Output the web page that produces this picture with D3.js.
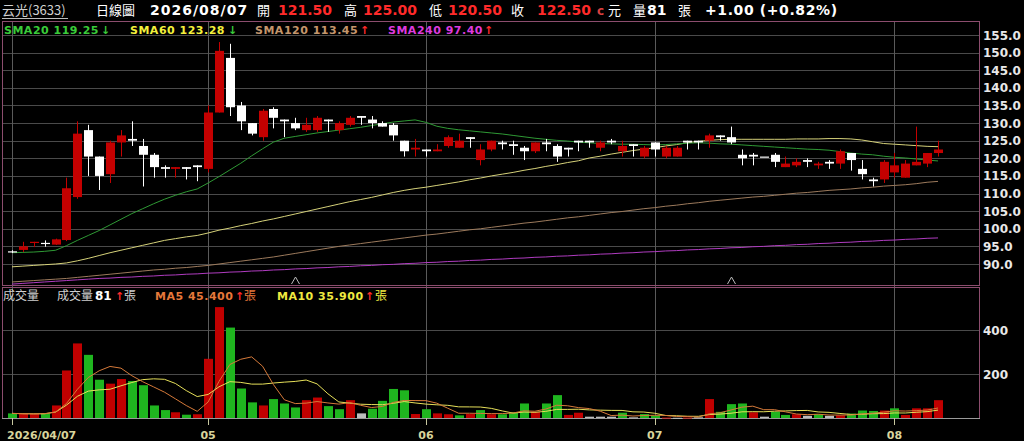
<!DOCTYPE html>
<html>
<head>
<meta charset="utf-8">
<script src="https://cdn.jsdelivr.net/npm/d3@7"></script>
<style>
  body { margin: 0; background: #000; overflow: hidden; }
</style>
</head>
<body>
<div id="chart"></div>
<script>
const width = 1024;
const height = 441;

// daily candles, 2026/04/07 .. 2026/08/07
const opens = [93.6, 94.0, 96.0, 96.0, 95.5, 96.8, 109, 128, 120.5, 115.5,
  124.5, 125.5, 123.5, 121, 117.5, 117, 117.5, 118, 117, 133,
  148.5, 135, 130, 126, 134, 131, 130, 128, 128, 131,
  128, 129.5, 132, 131, 130, 129.5, 125, 122.5, 122.5, 122,
  123.5, 123, 126, 119.5, 122.5, 124.5, 124, 123, 122, 124.5,
  123.5, 123, 125, 125, 123, 125, 122, 124, 120.5, 124.5,
  120.5, 120.5, 125, 125, 125, 126.5, 126, 121, 121, 120.5,
  121, 117.5, 118, 119.5, 118, 119, 118.5, 121.5, 117, 114,
  114, 116, 114.5, 118, 118.5, 121.5];
const highs = [93.9, 96.3, 96.3, 96.7, 97.2, 114.5, 130.5, 129.5, 120.5, 125,
  128, 130.5, 125.5, 121.5, 118, 117.5, 117.5, 118, 135, 153,
  152.5, 136, 130, 134, 134.5, 131, 131.5, 131.5, 132, 131,
  130.5, 132, 132, 132, 130.5, 130, 125, 125.5, 122.5, 124,
  126.5, 127, 126, 124, 125, 125, 125, 123.5, 124.5, 125.5,
  124, 123, 125, 125, 125, 125.5, 125, 124, 123.5, 124.5,
  123.5, 123.5, 125, 125, 127, 126.5, 129, 122.5, 121.5, 120.5,
  121.5, 120.5, 120, 120, 119, 119.5, 122.5, 121.5, 119.5, 114.5,
  119.5, 121.5, 119.5, 129, 121.5, 125];
const lows = [93.1, 93.4, 94.8, 94.9, 95.4, 96.5, 108.5, 115, 111, 113,
  120.5, 123.5, 112, 114.5, 114.5, 114.5, 114, 113.5, 116, 133,
  132, 128, 126.5, 125, 128.5, 126, 128, 127.5, 127.5, 127.5,
  127, 129, 129.5, 128.5, 129, 125, 120.5, 120.5, 120.5, 122,
  123, 123, 123, 118, 122, 122.5, 121, 119.5, 121.5, 122,
  119, 120.5, 122, 123, 122, 124, 120.5, 120.5, 120, 120.5,
  120, 120.5, 122.5, 122.5, 123, 125, 124, 118, 118, 120.5,
  117.5, 117.5, 117.5, 117.5, 117, 117, 117, 116.5, 114, 112,
  113, 114.5, 114.5, 118, 117.5, 120.5];
const closes = [93.5, 95.0, 96.3, 95.8, 97.0, 111.5, 127, 120.5, 115, 124.5,
  126.5, 125, 121, 117.5, 117, 117.5, 117, 117.5, 133, 150.5,
  134.5, 130.5, 127, 133.5, 131.5, 130.5, 128.5, 129.5, 131.5, 130.5,
  130, 131.5, 131.5, 130, 129, 126.5, 122, 123, 122, 122.5,
  126, 125, 125.5, 122.5, 125, 124, 123.5, 122, 124.5, 124,
  120.5, 122.5, 124.5, 124.5, 124.5, 124.5, 123.5, 123.5, 123, 122.5,
  123, 123, 124.5, 124.5, 126.5, 126, 124.5, 120, 120.5, 120.5,
  119, 118.5, 119, 119, 118.5, 118.5, 122, 119.5, 115.5, 113.5,
  119, 118, 118.5, 119, 121.5, 122.5];
const prevClose = 93.8; // close of the day before the first candle

// volume (張)
const volumes = [21, 18, 18, 21, 57, 216, 339, 287, 174, 156,
  177, 168, 149, 57, 36, 26, 15, 17, 269, 504,
  411, 134, 71, 57, 86, 66, 48, 81, 93, 54,
  40, 81, 21, 42, 78, 132, 126, 18, 40, 21,
  17, 12, 18, 36, 17, 17, 26, 66, 28, 66,
  104, 14, 24, 6, 6, 6, 24, 3, 18, 11,
  2, 1, 2, 3, 86, 28, 63, 66, 26, 6,
  28, 14, 17, 10, 17, 10, 12, 20, 34, 32,
  34, 44, 14, 44, 44, 81];

// moving averages
const sma20 = [93.2, 93.3, 93.4, 93.6, 93.9, 95.2, 96.7, 98.1, 99.5, 101.1,
  102.7, 104.3, 105.7, 107.1, 108.4, 109.5, 110.5, 111.3, 113, 114.8,
  116.7, 118.6, 120.7, 122.7, 124.6, 125.7, 126.2, 126.7, 127.2, 127.6,
  128, 128.4, 128.8, 129.3, 129.8, 130.3, 130.6, 130.9, 130.2, 129.1,
  128.5, 128.1, 127.8, 127.5, 127.2, 126.9, 126.5, 126.1, 125.7, 125.4,
  125.1, 124.9, 124.6, 124.4, 124.2, 124.1, 124, 124, 123.9, 123.8,
  123.9, 124.1, 124.3, 124.4, 124.3, 124.1, 124, 123.8, 123.6, 123.4,
  123.2, 123, 122.8, 122.6, 122.5, 122.3, 121.9, 121.5, 121.2, 121,
  120.6, 120.3, 120.1, 119.8, 119.5, 119.25];
const sma60 = [89.2, 89.4, 89.6, 89.8, 90.0, 90.3, 90.9, 91.6, 92.4, 93.2,
  93.9, 94.6, 95.3, 96, 96.7, 97.2, 97.7, 98.1, 98.8, 99.6,
  100.2, 100.9, 101.5, 102.2, 102.8, 103.5, 104.2, 104.9, 105.6, 106.3,
  107, 107.7, 108.3, 108.9, 109.6, 110.3, 110.9, 111.4, 111.8, 112.3,
  112.8, 113.3, 113.9, 114.4, 115, 115.5, 116, 116.6, 117.1, 117.7,
  118.2, 118.8, 119.3, 120.1, 120.6, 121.2, 121.7, 122.2, 122.6, 123,
  123.5, 123.9, 124.4, 124.8, 125.1, 125.3, 125.4, 125.4, 125.4, 125.4,
  125.4, 125.4, 125.5, 125.5, 125.5, 125.6, 125.6, 125.5, 125.2, 124.7,
  124.2, 124, 123.8, 123.6, 123.4, 123.3];
const sma120 = [84.9, 85.1, 85.3, 85.5, 85.7, 85.9, 86.2, 86.5, 86.8, 87.1,
  87.4, 87.7, 88.0, 88.3, 88.5, 88.8, 89.0, 89.3, 89.6, 90.0,
  90.4, 90.8, 91.2, 91.6, 92.0, 92.5, 93.0, 93.5, 94.0, 94.5,
  95.0, 95.4, 95.8, 96.2, 96.6, 97.0, 97.4, 97.8, 98.2, 98.5,
  98.9, 99.3, 99.7, 100.0, 100.4, 100.8, 101.2, 101.6, 101.9, 102.3,
  102.7, 103.1, 103.4, 103.8, 104.2, 104.6, 104.9, 105.3, 105.7, 106.0,
  106.4, 106.7, 107.1, 107.4, 107.8, 108.1, 108.4, 108.7, 109.0, 109.2,
  109.5, 109.8, 110.1, 110.3, 110.6, 110.9, 111.1, 111.3, 111.6, 111.8,
  112.1, 112.3, 112.5, 112.8, 113.2, 113.45];
const sma240 = [84.3, 84.5, 84.7, 84.9, 85.1, 85.3, 85.5, 85.7, 85.9, 86.0,
  86.2, 86.3, 86.5, 86.6, 86.8, 86.9, 87.1, 87.2, 87.4, 87.5,
  87.7, 87.8, 88.0, 88.1, 88.3, 88.4, 88.6, 88.7, 88.9, 89.0,
  89.2, 89.3, 89.5, 89.6, 89.8, 89.9, 90.1, 90.2, 90.4, 90.5,
  90.7, 90.8, 91.0, 91.1, 91.3, 91.4, 91.6, 91.7, 91.9, 92.0,
  92.2, 92.3, 92.5, 92.6, 92.8, 92.9, 93.1, 93.2, 93.4, 93.5,
  93.7, 93.8, 94.0, 94.1, 94.3, 94.4, 94.6, 94.7, 94.9, 95.0,
  95.2, 95.3, 95.5, 95.6, 95.8, 95.9, 96.1, 96.2, 96.4, 96.5,
  96.7, 96.8, 97.0, 97.1, 97.3, 97.4];

const priceTicks = [155, 150, 145, 140, 135, 130, 125, 120, 115, 110, 105, 100, 95, 90];
const volTicks = [200, 400];
const monthIdx = [0, 18, 38, 59, 81];
const monthLabels = ['2026/04/07', '05', '06', '07', '08'];
const markerIdx = [26, 66];

const RED = '#c40000';
const GREEN = '#1fb51f';
const FONT = "'DejaVu Sans', Verdana, sans-serif";
const CJK = "'Noto Sans CJK TC', 'Noto Sans CJK SC', sans-serif";

const svg = d3
  .select('#chart')
  .append('svg')
  .attr('width', width)
  .attr('height', height)
  .style('background', '#000');

const x = d3.scaleLinear().domain([0, 85]).range([12, 938]);
const y = d3.scaleLinear().domain([90, 155]).range([264, 35]);
const yv = d3.scaleLinear().domain([0, 400]).range([418, 330]);

const left = 2, right = 979;
const pTop = 21, pBottom = 285, vTop = 287, vBottom = 418;

svg.append('clipPath').attr('id', 'pclip')
  .append('rect').attr('x', left).attr('y', pTop)
  .attr('width', right - left).attr('height', pBottom - pTop);

// grid
const grid = svg.append('g').attr('stroke', '#4a4a4a').attr('stroke-width', 1);
grid.selectAll('line.h')
  .data(priceTicks)
  .join('line')
  .attr('class', 'h')
  .attr('x1', left).attr('x2', right)
  .attr('y1', (d) => Math.round(y(d)) + 0.5)
  .attr('y2', (d) => Math.round(y(d)) + 0.5);
grid.selectAll('line.vh')
  .data(volTicks)
  .join('line')
  .attr('class', 'vh')
  .attr('x1', left).attr('x2', right)
  .attr('y1', (d) => Math.round(yv(d)) + 0.5)
  .attr('y2', (d) => Math.round(yv(d)) + 0.5);
grid.selectAll('line.v')
  .data(monthIdx)
  .join('line')
  .attr('class', 'v')
  .attr('stroke', '#5a5a5a')
  .attr('x1', (d) => Math.round(x(d)) + 0.5)
  .attr('x2', (d) => Math.round(x(d)) + 0.5)
  .attr('y1', pTop).attr('y2', vBottom);

// frames
svg.append('rect')
  .attr('x', left + 0.5).attr('y', pTop + 0.5)
  .attr('width', right - left).attr('height', pBottom - pTop)
  .attr('fill', 'none').attr('stroke', '#8c4d6e');
svg.append('rect')
  .attr('x', left + 0.5).attr('y', vTop + 0.5)
  .attr('width', right - left).attr('height', vBottom - vTop)
  .attr('fill', 'none').attr('stroke', '#8c4d6e');
svg.append('line')
  .attr('x1', left).attr('x2', right + 1)
  .attr('y1', vBottom + 0.5).attr('y2', vBottom + 0.5)
  .attr('stroke', '#9a9a9a');

// price axis labels
svg.append('g')
  .selectAll('text')
  .data(priceTicks)
  .join('text')
  .attr('x', 983)
  .attr('y', (d) => y(d) + 4.5)
  .attr('fill', '#e8e8e8')
  .attr('font-family', FONT)
  .attr('font-weight', 'bold')
  .attr('font-size', 12)
  .text((d) => d.toFixed(1));

svg.append('g')
  .selectAll('text')
  .data(volTicks)
  .join('text')
  .attr('x', 983)
  .attr('y', (d) => yv(d) + 4.5)
  .attr('fill', '#e8e8e8')
  .attr('font-family', FONT)
  .attr('font-weight', 'bold')
  .attr('font-size', 12)
  .text((d) => d);

// moving average lines
const price = svg.append('g').attr('clip-path', 'url(#pclip)');
const maLine = d3.line().x((d, i) => x(i)).y((d) => y(d));
[
  [sma240, '#b03cc0'],
  [sma120, '#9c7a5c'],
  [sma60, '#d6d27a'],
  [sma20, '#2f9a35'],
].forEach(([values, color]) => {
  price.append('path')
    .attr('d', maLine(values))
    .attr('fill', 'none')
    .attr('stroke', color)
    .attr('stroke-width', 1);
});

// candles
const candles = d3.range(opens.length).map((i) => ({
  i,
  o: opens[i],
  h: highs[i],
  l: lows[i],
  c: closes[i],
}));
const candleColor = (d) => (d.c > d.o ? RED : '#ffffff');

const cg = price.selectAll('g.candle')
  .data(candles)
  .join('g')
  .attr('class', 'candle');
cg.append('line')
  .attr('x1', (d) => Math.round(x(d.i)) + 0.5)
  .attr('x2', (d) => Math.round(x(d.i)) + 0.5)
  .attr('y1', (d) => y(d.h))
  .attr('y2', (d) => y(d.l))
  .attr('stroke', candleColor);
cg.append('rect')
  .attr('x', (d) => Math.round(x(d.i)) - 4)
  .attr('width', 9)
  .attr('y', (d) => y(Math.max(d.o, d.c)))
  .attr('height', (d) => Math.max(1.2, Math.abs(y(d.o) - y(d.c))))
  .attr('fill', candleColor);

// small markers at the panel bottom
price.selectAll('path.mark')
  .data(markerIdx)
  .join('path')
  .attr('class', 'mark')
  .attr('d', (d) => {
    const cx = Math.round(x(d)) + 0.5;
    return `M${cx - 4},284 L${cx},277 L${cx + 4},284`;
  })
  .attr('fill', 'none')
  .attr('stroke', '#bbbbbb');

// volume bars
const volColor = (i) => {
  const prev = i === 0 ? prevClose : closes[i - 1];
  if (closes[i] > prev) return '#c00000';
  if (closes[i] < prev) return GREEN;
  return '#bdbdbd';
};
svg.append('g')
  .selectAll('rect')
  .data(volumes)
  .join('rect')
  .attr('x', (d, i) => Math.round(x(i)) - 4)
  .attr('width', 9)
  .attr('y', (d) => yv(d))
  .attr('height', (d) => Math.max(1, vBottom - yv(d)))
  .attr('fill', (d, i) => volColor(i));

// volume moving averages
const movingAvg = (arr, n) =>
  arr.map((d, i) => d3.mean(arr.slice(Math.max(0, i - n + 1), i + 1)));
const volLine = d3.line().x((d, i) => x(i)).y((d) => yv(d));
[
  [movingAvg(volumes, 10), '#e6e05a'],
  [movingAvg(volumes, 5), '#d67a3a'],
].forEach(([values, color]) => {
  svg.append('path')
    .attr('d', volLine(values))
    .attr('fill', 'none')
    .attr('stroke', color)
    .attr('stroke-width', 1);
});

// x axis
const xa = svg.append('g');
xa.selectAll('line')
  .data(monthIdx)
  .join('line')
  .attr('x1', (d) => Math.round(x(d)) + 0.5)
  .attr('x2', (d) => Math.round(x(d)) + 0.5)
  .attr('y1', vBottom)
  .attr('y2', vBottom + 7)
  .attr('stroke', '#c8c8a0');
xa.selectAll('text')
  .data(monthIdx)
  .join('text')
  .attr('x', (d, i) => (i === 0 ? x(d) - 5 : x(d)))
  .attr('y', 439)
  .attr('text-anchor', (d, i) => (i === 0 ? 'start' : 'middle'))
  .attr('fill', '#d8d49c')
  .attr('font-family', FONT)
  .attr('font-weight', 'bold')
  .attr('font-size', 11)
  .text((d, i) => monthLabels[i]);

// text helpers
function label(txt, px, py, opts = {}) {
  return svg.append('text')
    .attr('x', px)
    .attr('y', py)
    .attr('fill', opts.color || '#ffffff')
    .attr('font-family', opts.cjk ? CJK : FONT)
    .attr('font-weight', opts.bold ? 'bold' : 'normal')
    .attr('font-size', opts.size || 13)
    .attr('letter-spacing', opts.ls || 0)
    .text(txt);
}

// header
label('云光(3633)', 2, 15, { cjk: true, color: '#d0d0d0', size: 13 });
svg.append('line')
  .attr('x1', 2).attr('x2', 68).attr('y1', 18.5).attr('y2', 18.5)
  .attr('stroke', '#bdbdbd');
label('日線圖', 96, 15, { cjk: true, size: 13 });
label('2026/08/07', 150, 14.5, { bold: true, size: 14, ls: 1 });
label('開', 257, 15, { cjk: true, size: 13 });
label('121.50', 278, 14.5, { bold: true, size: 14, color: '#ff2a2a' });
label('高', 344, 15, { cjk: true, size: 13 });
label('125.00', 363, 14.5, { bold: true, size: 14, color: '#ff2a2a' });
label('低', 429, 15, { cjk: true, size: 13 });
label('120.50', 448, 14.5, { bold: true, size: 14, color: '#ff2a2a' });
label('收', 511, 15, { cjk: true, size: 13 });
label('122.50', 537, 14.5, { bold: true, size: 14, color: '#ff2a2a' });
label('c', 597, 14.5, { bold: true, size: 12, color: '#d84040' });
label('元', 608, 15, { cjk: true, size: 13 });
label('量', 633, 15, { cjk: true, size: 13 });
label('81', 647, 14.5, { bold: true, size: 14 });
label('張', 678, 15, { cjk: true, size: 13 });
label('+1.00 (+0.82%)', 705, 14.5, { bold: true, size: 14, ls: 0.6 });

// price legend
label('SMA20 119.25', 4, 34, { bold: true, size: 11, ls: 0.5, color: '#3acb3a' });
label('↓', 101, 34, { bold: true, size: 11, color: '#3acb3a' });
label('SMA60 123.28', 130, 34, { bold: true, size: 11, ls: 0.5, color: '#f4f03c' });
label('↓', 228, 34, { bold: true, size: 11, color: '#3acb3a' });
label('SMA120 113.45', 255, 34, { bold: true, size: 11, ls: 0.5, color: '#c4966c' });
label('↑', 360, 34, { bold: true, size: 11, color: '#ff2a2a' });
label('SMA240 97.40', 388, 34, { bold: true, size: 11, ls: 0.5, color: '#de3ade' });
label('↑', 484, 34, { bold: true, size: 11, color: '#ff2a2a' });

// volume legend
label('成交量', 3, 300, { cjk: true, size: 12, color: '#cfcfcf' });
label('成交量', 57, 300, { cjk: true, size: 12, color: '#cfcfcf' });
label('81', 95, 300, { bold: true, size: 12 });
label('↑', 115, 300, { bold: true, size: 11, color: '#ff2a2a' });
label('張', 124, 300, { cjk: true, size: 12, color: '#cfcfcf' });
label('MA5 45.400', 155, 300, { bold: true, size: 11, ls: 0.5, color: '#e6783a' });
label('↑', 235, 300, { bold: true, size: 11, color: '#ff2a2a' });
label('張', 244, 300, { cjk: true, size: 12, color: '#e6783a' });
label('MA10 35.900', 277, 300, { bold: true, size: 11, ls: 0.5, color: '#f0ea40' });
label('↑', 365, 300, { bold: true, size: 11, color: '#ff2a2a' });
label('張', 375, 300, { cjk: true, size: 12, color: '#f0ea40' });
</script>
</body>
</html>
